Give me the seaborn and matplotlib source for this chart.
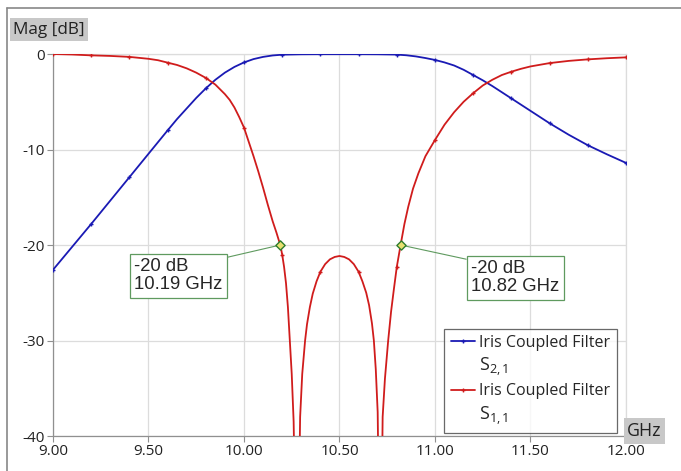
import numpy as np
import pandas as pd
import matplotlib
matplotlib.use("Agg")
import matplotlib.pyplot as plt
from matplotlib.lines import Line2D
import seaborn as sns

# S21 (blue), GHz / dB
s21_freq = [9.00, 9.20, 9.40, 9.60, 9.65, 9.70, 9.75, 9.80, 9.85, 9.90, 9.95,
            10.00, 10.05, 10.10, 10.15, 10.20, 10.30, 10.40, 10.50, 10.60, 10.70,
            10.80, 10.85, 10.90, 10.95, 11.00, 11.05, 11.10, 11.15, 11.20, 11.25,
            11.30, 11.35, 11.40, 11.50, 11.60, 11.70, 11.80, 11.90, 12.00]
s21_db = [-22.6, -17.8, -12.9, -8.0, -6.8, -5.7, -4.6, -3.6, -2.7, -1.95, -1.35,
          -0.88, -0.53, -0.3, -0.15, -0.07, -0.03, -0.02, -0.02, -0.02, -0.03,
          -0.06, -0.13, -0.25, -0.42, -0.62, -0.88, -1.2, -1.65, -2.2, -2.75,
          -3.35, -4.0, -4.65, -5.95, -7.25, -8.45, -9.55, -10.5, -11.4]

# S11 (red), GHz / dB (dips go below the axis floor)
s11_freq = [9.00, 9.10, 9.20, 9.30, 9.40, 9.50, 9.55, 9.60, 9.65, 9.70, 9.75, 9.80,
            9.85, 9.90, 9.925, 9.95, 9.975, 10.00, 10.025, 10.05, 10.075, 10.10,
            10.125, 10.15, 10.17, 10.19, 10.20, 10.21, 10.22, 10.23, 10.24, 10.25,
            10.26, 10.278, 10.294, 10.305, 10.32, 10.33, 10.345, 10.36, 10.38,
            10.40, 10.425, 10.45, 10.475, 10.50, 10.525, 10.55, 10.575, 10.60,
            10.62, 10.64, 10.655, 10.67, 10.68, 10.69, 10.70, 10.714, 10.726,
            10.738, 10.755, 10.77, 10.785, 10.80, 10.82, 10.84, 10.86, 10.885,
            10.913, 10.95, 11.00, 11.05, 11.10, 11.15, 11.20, 11.25, 11.30, 11.35,
            11.40, 11.45, 11.50, 11.60, 11.70, 11.80, 11.90, 12.00]
s11_db = [0.0, -0.05, -0.14, -0.2, -0.3, -0.5, -0.65, -0.9, -1.15, -1.5, -1.95, -2.5,
          -3.2, -4.2, -4.8, -5.6, -6.6, -7.7, -9.2, -10.7, -12.3, -14.0,
          -15.8, -17.5, -18.7, -20.0, -21.0, -22.3, -24.0, -26.5, -30.0, -33.5,
          -38.5, -60.0, -38.0, -33.5, -30.0, -28.3, -26.5, -25.1, -23.8,
          -22.8, -22.0, -21.5, -21.25, -21.15, -21.25, -21.5, -22.0, -22.8,
          -23.8, -25.0, -26.3, -28.2, -30.0, -33.0, -37.5, -60.0, -38.0,
          -34.0, -30.0, -27.0, -24.6, -22.3, -20.0, -17.8, -16.0, -14.1,
          -12.5, -10.7, -9.0, -7.4, -6.1, -5.0, -4.1, -3.3, -2.7, -2.2,
          -1.85, -1.55, -1.3, -0.95, -0.72, -0.56, -0.44, -0.35]

# -20 dB markers
mark_freq = [10.19, 10.82]
mark_db = [-20, -20]
mark_text = ["-20 dB\n10.19 GHz", "-20 dB\n10.82 GHz"]

trace_name = "Iris Coupled Filter"
param_labels = ["S$_\\mathregular{2,1}$", "S$_\\mathregular{1,1}$"]

x_ticks = [9.0, 9.5, 10.0, 10.5, 11.0, 11.5, 12.0]
y_ticks = [0, -10, -20, -30, -40]

blue = "#1a1ab4"
red = "#d01c1c"
green = "#5f9a5f"

sns.set_style("white")
plt.rcParams["font.family"] = ["Open Sans", "DejaVu Sans"]

fig = plt.figure(figsize=(6.81, 4.71), dpi=100)
ax = fig.add_axes([0.0778, 0.0743, 0.8414, 0.811])

df21 = pd.DataFrame({"GHz": s21_freq, "dB": s21_db})
df11 = pd.DataFrame({"GHz": s11_freq, "dB": s11_db})


def every_02(freqs):
    f = np.array(freqs) * 5
    return list(np.isclose(f, np.round(f)))


sns.lineplot(data=df21, x="GHz", y="dB", ax=ax, color=blue, lw=1.3,
             marker="+", ms=3.5, mew=1.0, mec=blue, markevery=every_02(s21_freq),
             zorder=3)
sns.lineplot(data=df11, x="GHz", y="dB", ax=ax, color=red, lw=1.3,
             marker="+", ms=3.5, mew=1.0, mec=red, markevery=every_02(s11_freq),
             zorder=4)

ax.set_xlim(9, 12)
ax.set_ylim(-40, 0)
ax.set_xticks(x_ticks)
ax.set_xticklabels([f"{t:.2f}" for t in x_ticks])
ax.set_yticks(y_ticks)
ax.set_yticklabels([str(t) for t in y_ticks])
ax.set_xlabel("")
ax.set_ylabel("")
ax.grid(True, color="#dcdcdc", lw=0.9)
ax.tick_params(axis="both", labelsize=11, colors="#222222", length=4,
               width=0.8, direction="out", bottom=True, left=True, pad=2)
ax.tick_params(axis="both", color="#909090")
for side in ["top", "right"]:
    ax.spines[side].set_color("#dcdcdc")
    ax.spines[side].set_linewidth(0.9)
for side in ["left", "bottom"]:
    ax.spines[side].set_color("#909090")
    ax.spines[side].set_linewidth(0.9)

# -20 dB markers with callouts
ax.scatter(mark_freq, mark_db, marker="D", s=22, facecolor="#e8e070",
           edgecolor="#2e7d2e", linewidth=1.0, zorder=6)
box = dict(boxstyle="square,pad=0.25", facecolor="white", edgecolor=green, lw=0.9)
ax.annotate(mark_text[0], xy=(mark_freq[0], mark_db[0]), xytext=(9.425, -21.4),
            ha="left", va="top", fontsize=13.3, family="Liberation Sans",
            linespacing=1.05, bbox=box, zorder=5,
            arrowprops=dict(arrowstyle="-", color=green, lw=0.8, relpos=(1, 1),
                            shrinkA=0, shrinkB=0))
ax.annotate(mark_text[1], xy=(mark_freq[1], mark_db[1]), xytext=(11.19, -21.6),
            ha="left", va="top", fontsize=13.3, family="Liberation Sans",
            linespacing=1.05, bbox=box, zorder=5,
            arrowprops=dict(arrowstyle="-", color=green, lw=0.8, relpos=(0, 1),
                            shrinkA=0, shrinkB=0))

# legend: handle on the name row, parameter on its own row beneath
blank = Line2D([], [], color="none")
handles = [Line2D([0, 0.5, 1], [0, 0, 0], color=blue, lw=1.3, marker="+", ms=3.5,
                  mec=blue, markevery=[1]),
           blank,
           Line2D([0, 0.5, 1], [0, 0, 0], color=red, lw=1.3, marker="+", ms=3.5,
                  mec=red, markevery=[1]),
           blank]
labels = [trace_name, param_labels[0], trace_name, param_labels[1]]
leg = ax.legend(handles, labels,
                loc="lower right", bbox_to_anchor=(0.984, 0.008), fontsize=11.5,
                frameon=True, fancybox=False, handlelength=1.5, handletextpad=0.3,
                borderpad=0.4, labelspacing=0.3, borderaxespad=0)
texts = leg.get_texts()
texts[1].set_fontsize(13)
texts[3].set_fontsize(13)
leg.get_frame().set_edgecolor("#444444")
leg.get_frame().set_linewidth(0.9)
leg.set_zorder(10)

# axis name boxes
fig.text(0.0195, 0.937, "Mag [dB]", fontsize=12.3, ha="left", va="center", color="#222222",
         bbox=dict(boxstyle="square,pad=0.2", facecolor="#c8c8c8", edgecolor="none"))
fig.text(0.921, 0.085, "GHz", fontsize=12.8, ha="left", va="center", color="#222222",
         bbox=dict(boxstyle="square,pad=0.2", facecolor="#c8c8c8", edgecolor="none"))

# outer frame (left and top edges visible)
fig.add_artist(Line2D([0.0103, 0.0103], [0, 0.983], transform=fig.transFigure,
                      color="#888888", lw=1.2))
fig.add_artist(Line2D([0.0103, 1.0], [0.983, 0.983], transform=fig.transFigure,
                      color="#888888", lw=1.2))

fig.savefig("out.png", dpi=100)
